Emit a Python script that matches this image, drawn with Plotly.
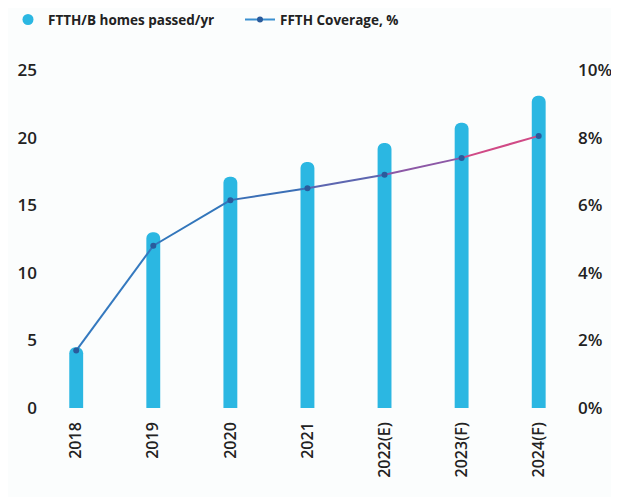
import plotly.graph_objects as go

# FTTH/B build-out chart
years = ["2018", "2019", "2020", "2021", "2022(E)", "2023(F)", "2024(F)"]
homes_passed = [4.5, 13.0, 17.1, 18.2, 19.6, 21.1, 23.1]          # left axis
coverage_pct = [1.7, 4.8, 6.15, 6.5, 6.9, 7.4, 8.05]              # right axis, %
left_ticks = [0, 5, 10, 15, 20, 25]
right_ticks = [0, 2, 4, 6, 8, 10]

bar_color = "#2bb7e2"
# blue -> pink fade along the coverage line, one colour per segment
seg_colors = ["#3479bf", "#3276bb", "#3b6fb6", "#5d66b0", "#8c58a6", "#d04a86"]
font = "Open Sans"

traces = []
traces.append(go.Bar(x=years, y=homes_passed, width=0.18, marker=dict(color=bar_color, cornerradius="50%", line=dict(width=0)),
                     showlegend=False, hoverinfo="y"))

for i in range(len(years) - 1):
    traces.append(go.Scatter(x=years[i:i + 2], y=coverage_pct[i:i + 2], mode="lines", yaxis="y2",
                             line=dict(color=seg_colors[i], width=2), showlegend=False, hoverinfo="skip"))
traces.append(go.Scatter(x=years, y=coverage_pct, mode="markers", yaxis="y2",
                         marker=dict(color="#2a5b9c", size=6), showlegend=False))

# legend-only entries
traces.append(go.Scatter(x=[None], y=[None], mode="markers", name="FTTH/B homes passed/yr",
                         marker=dict(color=bar_color, size=11, symbol="circle")))
traces.append(go.Scatter(x=[None], y=[None], mode="lines+markers", name="FFTH Coverage, %", yaxis="y2",
                         line=dict(color="#3a8fd0", width=2), marker=dict(color="#2a5b9c", size=6)))

# page body has an 8px margin, so the figure is 8px smaller than the window
layout = go.Layout(
    width=611, height=489,
    paper_bgcolor="#fbfdfd", plot_bgcolor="rgba(0,0,0,0)",
    margin=dict(l=42, r=51, t=62, b=89, pad=0, autoexpand=False),
    font=dict(family=font, size=17, color="#222222", weight=600),
    xaxis=dict(type="category", range=[-0.34, 6.38], tickangle=-90, showgrid=False, showline=False,
               zeroline=False, ticks="", ticklabelstandoff=10, tickfont=dict(size=16), automargin=False),
    yaxis=dict(range=[0, 25], tickvals=left_ticks, showgrid=False, zeroline=False, showline=False,
               ticks="", ticklabelstandoff=12, automargin=False),
    yaxis2=dict(range=[0, 10], overlaying="y", side="right", tickvals=right_ticks,
                ticktext=[f"{v}%" for v in right_ticks], showgrid=False, zeroline=False, ticks="",
                ticklabelstandoff=9, automargin=False),
    legend=dict(orientation="h", xref="container", x=0, xanchor="left", yref="container", y=0.976,
                yanchor="middle", font=dict(size=13.5, weight=700), bgcolor="rgba(0,0,0,0)",
                entrywidth=187, entrywidthmode="pixels"),
    bargap=0.8,
)

fig = go.Figure(traces, layout)
fig.write_html("out.html")
